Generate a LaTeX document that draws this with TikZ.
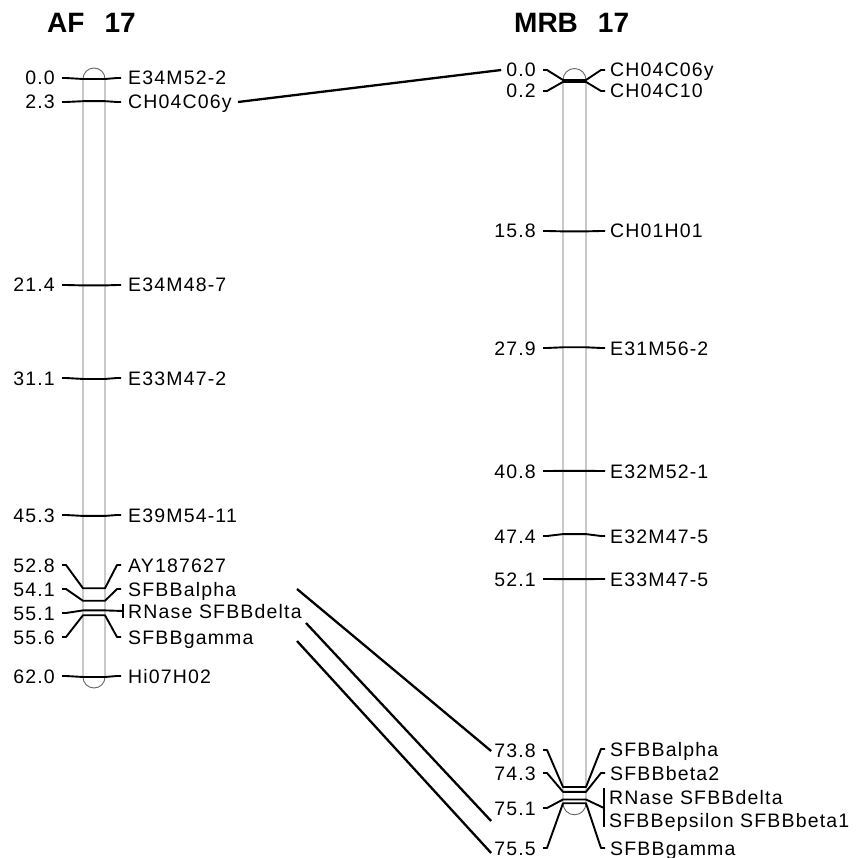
\documentclass[tikz,border=0pt]{standalone}
\usepackage{fontspec}
\setmainfont{Liberation Sans}
\newfontfamily\mapfont[LetterSpace=6]{Liberation Sans}

\begin{document}
\begin{tikzpicture}[x=1pt,y=-1pt,
    chrom/.style={draw=black!60, line width=0.9pt},
    tick/.style={line width=1.9pt, line join=round},
    link/.style={line width=2.3pt},
    num/.style={font=\fontsize{19.5}{21}\mapfont, inner sep=0pt, text height=14pt, text depth=0pt, anchor=east},
    mk/.style={num, anchor=west},
    ttl/.style={font=\fontsize{28}{30}\selectfont\bfseries, inner sep=0pt, anchor=west}]
    \useasboundingbox (0,0) rectangle (864,858);
    \node[ttl] (tAF) at (47,23) {AF\hspace{20pt}17};
    \node[ttl] (tMRB) at (514,23) {MRB\hspace{20pt}17};
    \draw[chrom] (83,79) -- (83,677) arc[start angle=180, end angle=0, radius=11]
        -- (105,79) arc[start angle=0, end angle=-180, radius=11] -- cycle;
    \foreach \c/\ly/\t/\ry [count=\i] in {0.0/78/E34M52-2/78, 2.3/102/CH04C06y/102,
        21.4/285/E34M48-7/285, 31.1/378/E33M47-2/378, 45.3/515/E39M54-11/515,
        52.8/565/AY187627/565, 54.1/589/SFBBalpha/589, 55.6/637/SFBBgamma/637, 62.0/676/Hi07H02/676} {
        \node[num] (an\i) at (55,\ly) {\c};
        \node[mk] (am\i) at (128,\ry) {\t};
        \draw[tick] ([xshift=7pt]an\i.east) -- ++(4,0) -- (83,{79+9.645*\c}) -- (105,{79+9.645*\c})
            -- ([xshift=-11pt]am\i.west) -- ([xshift=-7pt]am\i.west);
    }
    \node[num] (an10) at (55,613) {55.1};
    \node[mk] (am10) at (128,611) {RNase SFBBdelta};
    \draw[tick] ([xshift=7pt]an10.east) -- ++(4,0) -- (83,610.4) -- (105,610.4) -- ([xshift=-5pt]am10.west);
    \draw[tick] ([xshift=-5pt,yshift=7pt]am10.west) -- ([xshift=-5pt,yshift=-7pt]am10.west);

    \draw[chrom] (563,80) -- (563,803.3) arc[start angle=180, end angle=0, radius=11.5]
        -- (586,80) arc[start angle=0, end angle=-180, radius=11.5] -- cycle;
    \foreach \c/\ly/\t/\ry [count=\i] in {0.0/70/CH04C06y/70, 0.2/91/CH04C10/91,
        15.8/231/CH01H01/231, 27.9/348/E31M56-2/348, 40.8/471/E32M52-1/471,
        47.4/536/E32M47-5/536, 52.1/579/E33M47-5/579, 73.8/750/SFBBalpha/749,
        74.3/773/SFBBbeta2/773, 75.5/848/SFBBgamma/848} {
        \node[num] (bn\i) at (536,\ly) {\c};
        \node[mk] (bm\i) at (610,\ry) {\t};
        \draw[tick] ([xshift=7pt]bn\i.east) -- ++(4,0) -- (563,{80+9.58*\c}) -- (586,{80+9.58*\c})
            -- ([xshift=-9pt]bm\i.west) -- ([xshift=-5pt]bm\i.west);
    }
    \node[num] (bn11) at (536,808) {75.1};
    \node[mk] (bm11) at (609,797) {RNase SFBBdelta};
    \node[mk] (bm12) at (609,820) {SFBBepsilon SFBBbeta1};
    \coordinate (brk) at (604,808);
    \draw[tick] ([xshift=7pt]bn11.east) -- ++(4,0) -- (563,799.5) -- (586,799.5) -- (brk);
    \draw[tick] (604,788) -- (604,827);

    \coordinate (aAl) at (297,589);
    \coordinate (aDe) at (306,623);
    \coordinate (aGa) at (297,641);
    \draw[link] ([xshift=6pt]am2.east) -- ([xshift=-5pt]bn1.west);
    \draw[link] (aAl) -- ([xshift=-3pt,yshift=-1pt]bn8.west);
    \draw[link] (aDe) -- ([xshift=-3pt,yshift=-13pt]bn11.west);
    \draw[link] (aGa) -- ([xshift=-3pt,yshift=-5pt]bn10.west);
\end{tikzpicture}
\end{document}
